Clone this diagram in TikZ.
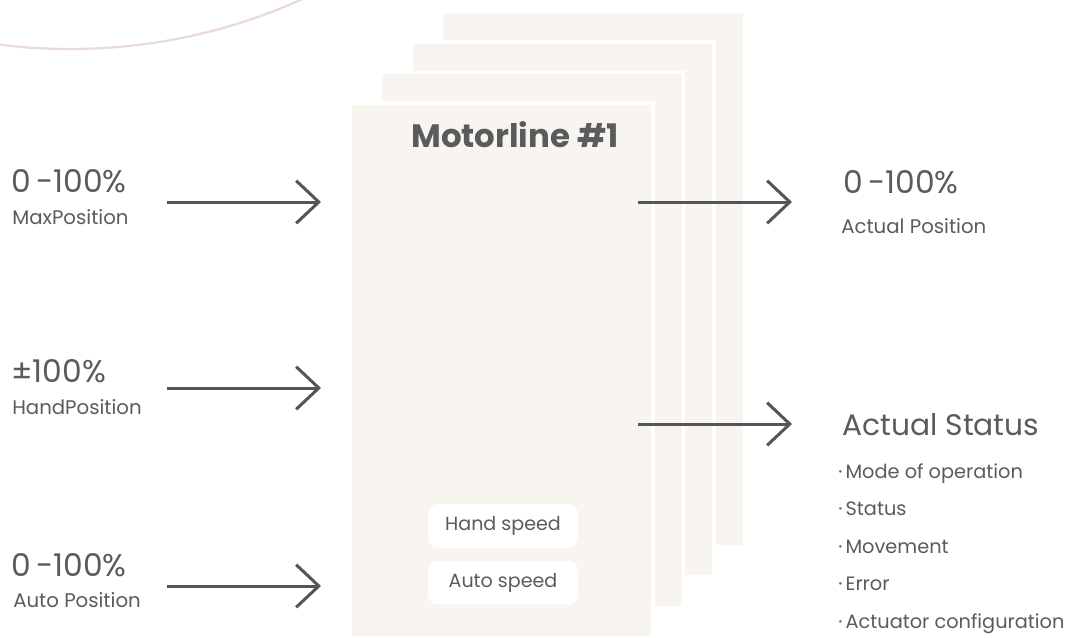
\documentclass[tikz,border=0pt]{standalone}
\usepackage{fontspec}
\setmainfont{Poppins}
\usetikzlibrary{arrows.meta}

\begin{document}
\begin{tikzpicture}[x=0.75pt,y=-0.75pt,
  bignum/.style={anchor=base west,inner sep=0pt,text=kText,font=\fontsize{23.5}{23.5}\selectfont},
  sublabel/.style={anchor=base west,inner sep=0pt,text=kText,font=\fontsize{14.8}{14.8}\selectfont},
  listitem/.style={anchor=base west,inner sep=0pt,text=kText,font=\fontsize{14.5}{14.5}\selectfont},
  flow/.style={draw=kArrow,line width=2.25pt,-{Straight Barb[length=17pt,width=32pt]}},
  pill/.style={fill=white,rounded corners=7.5pt,minimum width=112.5pt,minimum height=33pt,
    inner sep=0pt,text=kText,font=\fontsize{14.3}{14.3}\selectfont}]
  % colors
  \definecolor{kText}{HTML}{5B5B5B}
  \definecolor{kArrow}{HTML}{555555}
  \definecolor{kPanel}{HTML}{F8F5F0}
  \definecolor{kArc}{HTML}{EADBD8}
  \useasboundingbox (0,0) rectangle (1074,637);

  % arc in the corner
  \begin{scope}
    \clip (0,0) rectangle (1074,637);
    \draw[color=kArc,line width=1.7pt] (70,-515) circle[radius=423pt];
  \end{scope}

  % stacked motorlines
  \foreach \i in {3,2,1,0} {
    \fill[kPanel,draw=white,line width=2.5pt] ({350+30.5*\i},{103-30.5*\i}) rectangle ++(303,535);
  };
  \node[anchor=base,inner sep=0pt,text=kText,font=\bfseries\fontsize{24.3}{24.3}\selectfont] (title) at (515,147) {Motorline \#1};
  \node[pill] (handspeed) at (503,526) {Hand speed};
  \node[pill] (autospeed) at (503,582.5) {Auto speed};

  % inputs
  \node[bignum] (maxval) at (11,192) {0\,-100\%};
  \node[sublabel] (maxname) at (12,224) {MaxPosition};
  \node[bignum] (handval) at (11,382) {±100\%};
  \node[sublabel] (handname) at (12,414) {HandPosition};
  \node[bignum] (autoval) at (11,576) {0\,-100\%};
  \node[sublabel] (autoname) at (13,607) {Auto Position};

  \coordinate (maxin) at (167,202);  \coordinate (maxtip) at (321,202);
  \coordinate (handin) at (167,388); \coordinate (handtip) at (321,388);
  \coordinate (autoin) at (167,586); \coordinate (autotip) at (321,586);
  \draw[flow] (maxin) -- (maxtip);
  \draw[flow] (handin) -- (handtip);
  \draw[flow] (autoin) -- (autotip);

  % outputs
  \coordinate (posout) at (638,202);  \coordinate (postip) at (792,202);
  \coordinate (statout) at (638,424); \coordinate (stattip) at (792,424);
  \draw[flow] (posout) -- (postip);
  \draw[flow] (statout) -- (stattip);

  \node[bignum] (posval) at (843,193) {0\,-100\%};
  \node[sublabel] (posname) at (841,233) {Actual Position};
  \node[anchor=base west,inner sep=0pt,text=kText,font=\fontsize{22.3}{22.3}\selectfont] (status) at (842,435) {Actual Status};
  \foreach \txt [count=\k] in {Mode of operation,Status,Movement,Error,Actuator configuration} {
    \node[listitem] (item\k) at (838,{478+37.5*(\k-1)}) {·\,\txt};
  };
\end{tikzpicture}
\end{document}
